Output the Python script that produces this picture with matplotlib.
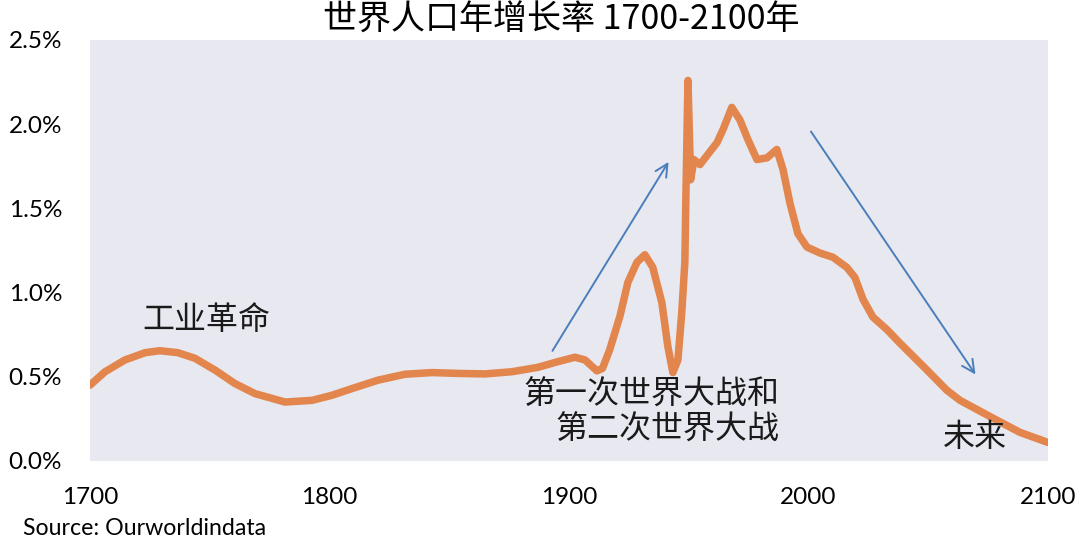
import matplotlib.pyplot as plt
from matplotlib.ticker import FuncFormatter

plt.rcParams['font.family'] = ['Lato', 'Noto Sans CJK SC', 'DejaVu Sans']

# world population growth rate (%)
years = [1700, 1706.3, 1714.6, 1723, 1729.2, 1736.7, 1743.8, 1752.2, 1760.5, 1768.9,
         1781.4, 1792.7, 1801, 1809.4, 1820.3, 1831.5, 1842.8, 1853.7, 1864.9, 1876.2,
         1887, 1895.4, 1902.5, 1906.7, 1911.7, 1914, 1917, 1921.3, 1924.6, 1928.4,
         1931.7, 1935, 1938.8, 1941.3, 1943.4, 1945.5, 1947.1, 1948.4, 1948.9, 1949.7,
         1950.8, 1952.2, 1954.7, 1961.8, 1964.4, 1968, 1971.4, 1974.7, 1978.5, 1982.7,
         1986.8, 1989.4, 1992.3, 1995.6, 1999.4, 2004.8, 2010.2, 2016, 2019.4, 2022.8,
         2026.9, 2032.8, 2038.2, 2049.5, 2057.8, 2063.3, 2077, 2088.3, 2100]
growth = [0.45, 0.53, 0.60, 0.643, 0.655, 0.643, 0.61, 0.54, 0.46, 0.40,
          0.35, 0.36, 0.39, 0.43, 0.48, 0.515, 0.525, 0.52, 0.517, 0.53,
          0.556, 0.59, 0.616, 0.60, 0.535, 0.55, 0.66, 0.86, 1.06, 1.18,
          1.225, 1.15, 0.94, 0.68, 0.525, 0.60, 0.88, 1.18, 1.63, 2.26,
          1.67, 1.79, 1.76, 1.89, 1.97, 2.10, 2.025, 1.91, 1.79, 1.80,
          1.85, 1.73, 1.53, 1.35, 1.27, 1.235, 1.21, 1.15, 1.09, 0.96,
          0.855, 0.78, 0.70, 0.54, 0.42, 0.36, 0.255, 0.17, 0.11]

y_ticks = [0.0, 0.5, 1.0, 1.5, 2.0, 2.5]
x_ticks = [1700, 1800, 1900, 2000, 2100]

title = "世界人口年增长率 1700-2100年"
notes = [
    ("工业革命", 1748.5, 0.84, "center"),
    ("第一次世界大战和\n第二次世界大战", 1988, 0.29, "right"),
    ("未来", 2069.5, 0.14, "center"),
]
arrows = [((1892.5, 0.64), (1942.2, 1.79)), ((2000.4, 1.97), (2070.4, 0.50))]

fig = plt.figure(figsize=(10.8, 5.44), dpi=100)
ax = fig.add_axes([0.0833, 0.1526, 0.887, 0.7739])
ax.set_facecolor('#E8E8F1')

ax.plot(years, growth, color='#E2864E', lw=5.4, solid_joinstyle='round',
        solid_capstyle='round')

for (x0, y0), (x1, y1) in arrows:
    ax.annotate('', xy=(x1, y1), xytext=(x0, y0),
                arrowprops=dict(arrowstyle='->,head_length=0.9,head_width=0.45',
                                color='#4A7EBB', lw=1.4))

cjk = ['Noto Sans CJK SC', 'DejaVu Sans']
for text, x, y, ha in notes:
    ax.text(x, y, text, ha=ha, va='center', fontsize=23, family=cjk,
            color='#1a1a1a', linespacing=1.15, fontweight='light')

ax.set_xlim(1700, 2100)
ax.set_ylim(0, 2.5)
ax.set_xticks(x_ticks)
ax.set_yticks(y_ticks)
ax.yaxis.set_major_formatter(FuncFormatter(lambda v, p: f"{v:.1f}%"))
ax.tick_params(length=0, labelsize=17.5)
ax.tick_params(axis='x', pad=19)
ax.tick_params(axis='y', pad=20)
for s in ax.spines.values():
    s.set_visible(False)

fig.text(0.52, 0.962, title, ha='center', va='center', fontsize=24.5,
         family=cjk, fontweight='light')
fig.text(0.021, 0.028, "Source: Ourworldindata", ha='left', va='center',
         fontsize=16.7)

fig.savefig('out.png', dpi=100)
